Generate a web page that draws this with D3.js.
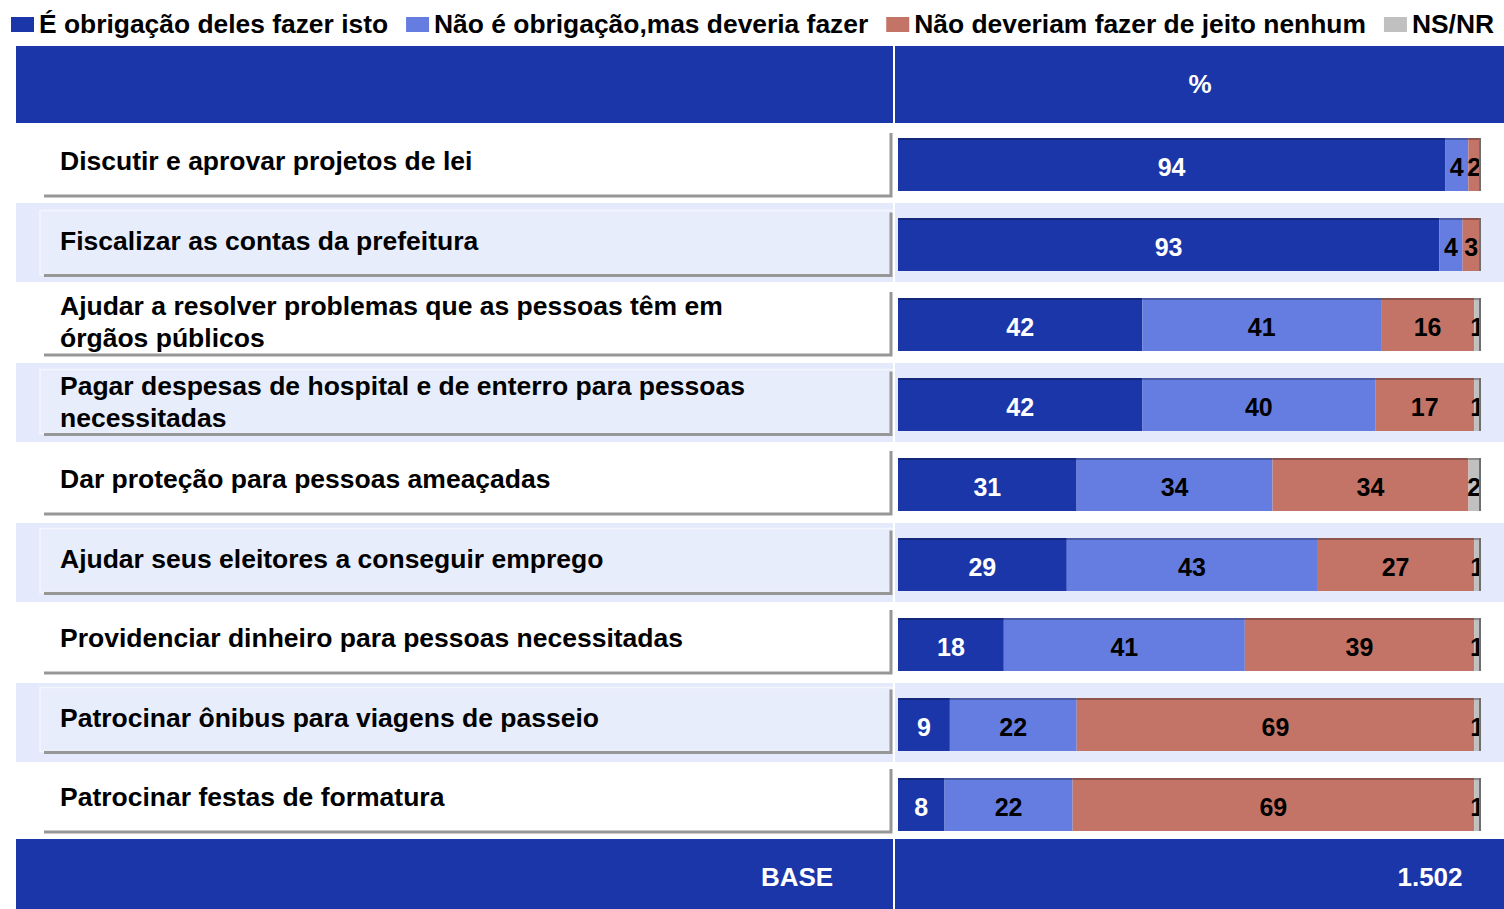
<!DOCTYPE html>
<meta charset="utf-8">
<style>
  body { margin: 0; background: #fff; }
  text { font-family: "Liberation Sans", Arial, sans-serif; font-weight: bold; }
</style>
<body>
<script src="https://d3js.org/d3.v7.min.js"></script>
<script>
// data (%)
var categories = [
  ["Discutir e aprovar projetos de lei"],
  ["Fiscalizar as contas da prefeitura"],
  ["Ajudar a resolver problemas que as pessoas têm em", "órgãos públicos"],
  ["Pagar despesas de hospital e de enterro para pessoas", "necessitadas"],
  ["Dar proteção para pessoas ameaçadas"],
  ["Ajudar seus eleitores a conseguir emprego"],
  ["Providenciar dinheiro para pessoas necessitadas"],
  ["Patrocinar ônibus para viagens de passeio"],
  ["Patrocinar festas de formatura"]
];
var obrigacao   = [94, 93, 42, 42, 31, 29, 18, 9, 8];
var deveria     = [4, 4, 41, 40, 34, 43, 41, 22, 22];
var naoDeveriam = [2, 3, 16, 17, 34, 27, 39, 69, 69];
var nsnr        = [0, 0, 1, 1, 2, 1, 1, 1, 1];
var seriesNames = ["É obrigação deles fazer isto", "Não é obrigação,mas deveria fazer",
                   "Não deveriam fazer de jeito nenhum", "NS/NR"];
var seriesColors = ["#1a36a9", "#657de0", "#c47467", "#c0c0c0"];
var labelColors = ["#fff", "#000", "#000", "#000"];
var baseLabel = "BASE", baseValue = "1.502";

var W = 1504, H = 909;
var svg = d3.select("body").append("svg").attr("width", W).attr("height", H);

var keys = ["a", "b", "c", "d"];
var rows = categories.map(function (c, i) {
  return { i: i, a: obrigacao[i], b: deveria[i], c: naoDeveriam[i], d: nsnr[i] };
});
var stacked = d3.stack().keys(keys).offset(d3.stackOffsetExpand)(rows);

var x = d3.scaleLinear().domain([0, 1]).range([898, 1480]);
var y = d3.scaleBand().domain(d3.range(categories.length)).range([123, 843]);
var splitX = 894;

// legend
var lg = svg.append("g");
var lx = 11;
seriesNames.forEach(function (name, k) {
  lg.append("rect").attr("x", lx).attr("y", 17).attr("width", 23).attr("height", 15)
    .attr("fill", seriesColors[k]);
  var t = lg.append("text").attr("x", lx + 28).attr("y", 33)
    .attr("font-size", 26.4).attr("fill", "#000").text(name);
  lx += 28 + t.node().getComputedTextLength() + 18;
});

// header
svg.append("rect").attr("x", 16).attr("y", 46).attr("width", W - 16).attr("height", 77)
  .attr("fill", "#1a36a9");
svg.append("text").attr("x", 1200).attr("y", 84).attr("dy", "0.35em")
  .attr("text-anchor", "middle").attr("font-size", 26).attr("fill", "#fff").text("%");

// row backgrounds
svg.selectAll(".band").data(rows.filter(function (d) { return d.i % 2 === 1; }))
  .enter().append("rect")
  .attr("x", 16).attr("y", function (d) { return y(d.i); })
  .attr("width", W - 16).attr("height", y.bandwidth() - 1)
  .attr("fill", "#e4eafb");

// label boxes (drawn boxes drift slightly up vs the bar rows)
function boxBottom(i) { return 196 + i * 79.5; }
var box = svg.selectAll(".box").data(rows).enter().append("g");
box.filter(function (d) { return d.i % 2 === 1; }).append("rect")
  .attr("x", 40).attr("y", function (d) { return boxBottom(d.i) - 65; })
  .attr("width", 852).attr("height", 64)
  .attr("fill", "#e8edfc").attr("stroke", "#f4f6fe").attr("stroke-width", 1.5);
box.append("path")
  .attr("d", function (d) {
    var b = boxBottom(d.i), t = b - 63;
    return "M44," + b + "H891V" + t;
  })
  .attr("fill", "none").attr("stroke", "#979797").attr("stroke-width", 3);
box.each(function (d) {
  var g = d3.select(this);
  var lines = categories[d.i];
  var y0 = lines.length === 1 ? boxBottom(d.i) - 26 : boxBottom(d.i) - 40;
  lines.forEach(function (ln, j) {
    g.append("text").attr("x", 60).attr("y", y0 + j * 32)
      .attr("font-size", 26.5).attr("fill", "#000").text(ln);
  });
});

// bars
var defs = svg.append("defs");
rows.forEach(function (d) {
  defs.append("clipPath").attr("id", "clip" + d.i).append("rect")
    .attr("x", x(0)).attr("y", y(d.i)).attr("width", x(1) - x(0) + 1).attr("height", y.bandwidth());
});

var barH = 53;
var layer = svg.selectAll(".layer").data(stacked).enter().append("g");
var seg = layer.selectAll("g").data(function (s) {
  return s.map(function (p) { return { k: s.index, p: p, v: p.data[s.key], i: p.data.i }; });
}).enter().append("g");
seg.append("rect")
  .attr("x", function (d) { return x(d.p[0]); })
  .attr("y", function (d) { return y(d.i) + 15; })
  .attr("width", function (d) { return Math.max(0, x(d.p[1]) - x(d.p[0])); })
  .attr("height", barH)
  .attr("fill", function (d) { return seriesColors[d.k]; });
seg.append("rect")
  .attr("x", function (d) { return x(d.p[0]); })
  .attr("y", function (d) { return y(d.i) + 15; })
  .attr("width", function (d) { return Math.max(0, x(d.p[1]) - x(d.p[0])); })
  .attr("height", 2)
  .attr("fill", function (d) { return d3.color(seriesColors[d.k]).darker(0.9); });

// right edge shadow
svg.selectAll(".edge").data(rows).enter().append("rect")
  .attr("x", x(1) - 1).attr("y", function (d) { return y(d.i) + 15; })
  .attr("width", 2).attr("height", barH).attr("fill", "#6e6e6e");

// value labels
seg.filter(function (d) { return d.v > 0; }).append("text")
  .attr("clip-path", function (d) { return "url(#clip" + d.i + ")"; })
  .attr("x", function (d) { return (x(d.p[0]) + x(d.p[1])) / 2; })
  .attr("y", function (d) { return y(d.i) + 15 + 38; })
  .attr("text-anchor", "middle").attr("font-size", 25)
  .attr("fill", function (d) { return labelColors[d.k]; })
  .text(function (d) { return d.v; });

// footer
svg.append("rect").attr("x", 16).attr("y", 839).attr("width", W - 16).attr("height", H - 839)
  .attr("fill", "#1a36a9");
svg.append("text").attr("x", 797).attr("y", 877).attr("dy", "0.35em")
  .attr("text-anchor", "middle").attr("font-size", 26).attr("fill", "#fff").text(baseLabel);
svg.append("text").attr("x", 1430).attr("y", 877).attr("dy", "0.35em")
  .attr("text-anchor", "middle").attr("font-size", 26).attr("fill", "#fff").text(baseValue);

// white separator between the two panels
svg.append("rect").attr("x", splitX - 1).attr("y", 46).attr("width", 2).attr("height", H - 46)
  .attr("fill", "#fff");
</script>
</body>
